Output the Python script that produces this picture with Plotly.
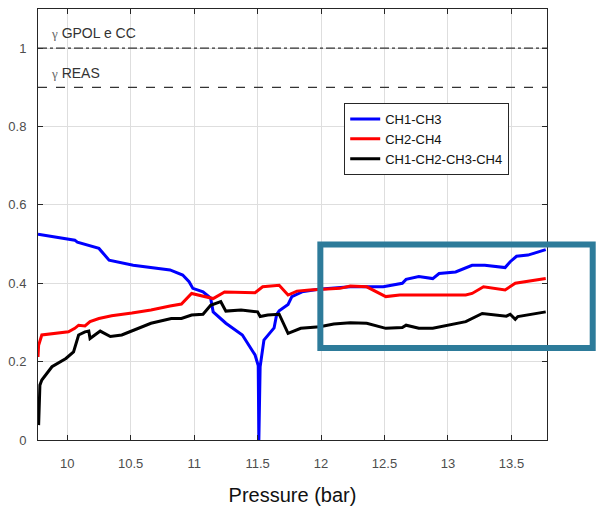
import plotly.graph_objects as go

# ---- data ----
blue_x = [9.77, 10.06, 10.08, 10.23, 10.25, 10.33, 10.52, 10.81, 10.91, 10.96, 10.99, 11.07, 11.13,
          11.15, 11.25, 11.38, 11.48, 11.505, 11.51, 11.52, 11.55, 11.63, 11.65, 11.67, 11.74, 11.77,
          11.85, 11.98, 12.23, 12.49, 12.64, 12.67, 12.77, 12.88, 12.93, 13.06, 13.19, 13.29, 13.45,
          13.49, 13.54, 13.63, 13.77]
blue_y = [0.525, 0.51, 0.505, 0.492, 0.489, 0.459, 0.446, 0.434, 0.421, 0.404, 0.387, 0.378, 0.362,
          0.327, 0.298, 0.268, 0.217, 0.19, 0.0, 0.187, 0.255, 0.286, 0.32, 0.33, 0.346, 0.366,
          0.378, 0.385, 0.391, 0.391, 0.40, 0.41, 0.417, 0.412, 0.425, 0.429, 0.446, 0.446, 0.44,
          0.455, 0.469, 0.472, 0.486]

red_x = [9.77, 9.775, 9.80, 10.01, 10.06, 10.09, 10.14, 10.18, 10.25, 10.35, 10.51, 10.66, 10.81,
         10.90, 10.98, 11.05, 11.15, 11.24, 11.37, 11.48, 11.54, 11.67, 11.74, 11.81, 11.91, 12.15,
         12.23, 12.36, 12.51, 12.62, 13.14, 13.19, 13.28, 13.45, 13.53, 13.77]
red_y = [0.212, 0.242, 0.268, 0.276, 0.285, 0.293, 0.291, 0.302, 0.31, 0.317, 0.324, 0.332, 0.342,
         0.347, 0.374, 0.368, 0.361, 0.378, 0.376, 0.376, 0.391, 0.395, 0.37, 0.38, 0.383, 0.387,
         0.393, 0.391, 0.366, 0.37, 0.37, 0.374, 0.391, 0.383, 0.40, 0.412]

black_x = [9.775, 9.785, 9.80, 9.88, 9.99, 10.05, 10.09, 10.14, 10.17, 10.18, 10.26, 10.34, 10.43,
           10.51, 10.66, 10.82, 10.90, 10.98, 11.07, 11.13, 11.21, 11.25, 11.37, 11.50, 11.52,
           11.58, 11.67, 11.74, 11.84, 11.99, 12.10, 12.23, 12.36, 12.51, 12.64, 12.67, 12.77,
           12.88, 12.98, 13.14, 13.27, 13.40, 13.46, 13.49, 13.53, 13.55, 13.77]
black_y = [0.038, 0.14, 0.153, 0.187, 0.208, 0.225, 0.268, 0.276, 0.278, 0.259, 0.278, 0.264, 0.268,
           0.278, 0.298, 0.31, 0.31, 0.319, 0.321, 0.344, 0.353, 0.329, 0.332, 0.327, 0.315,
           0.319, 0.321, 0.272, 0.285, 0.289, 0.296, 0.299, 0.298, 0.285, 0.287, 0.293, 0.285,
           0.285, 0.292, 0.302, 0.323, 0.319, 0.316, 0.321, 0.308, 0.315, 0.327]

series_names = ["CH1-CH3", "CH2-CH4", "CH1-CH2-CH3-CH4"]
gamma_gpol = 1.0
gamma_reas = 0.9
x_range = [9.77, 13.78]
y_range = [0, 1.1]
x_ticks = [10, 10.5, 11, 11.5, 12, 12.5, 13, 13.5]
x_tick_labels = ["10", "10.5", "11", "11.5", "12", "12.5", "13", "13.5"]
y_ticks = [0, 0.2, 0.4, 0.6, 0.8, 1.0]
y_tick_labels = ["0", "0.2", "0.4", "0.6", "0.8", "1"]

fig = go.Figure()
for xs, ys, name, col in [(blue_x, blue_y, series_names[0], "#0000ff"),
                          (red_x, red_y, series_names[1], "#ff0000"),
                          (black_x, black_y, series_names[2], "#000000")]:
    fig.add_trace(go.Scatter(x=xs, y=ys, mode="lines", name=name,
                             line=dict(color=col, width=3), cliponaxis=True))

# reference lines
fig.add_shape(type="line", xref="paper", x0=0, x1=1, yref="y", y0=gamma_gpol, y1=gamma_gpol,
              line=dict(color="#333333", width=1.2, dash="dashdot"))
fig.add_shape(type="line", xref="paper", x0=0, x1=1, yref="y", y0=gamma_reas, y1=gamma_reas,
              line=dict(color="#333333", width=1.2, dash="dash"))

gfont = "<span style='font-family:Liberation Serif;font-size:13px;color:#666'>γ</span>"
fig.add_annotation(x=9.855, y=1.038, xref="x", yref="y", text=gfont + " GPOL e CC",
                   showarrow=False, xanchor="left", yanchor="middle",
                   font=dict(family="Liberation Sans", size=14, color="#333333"))
fig.add_annotation(x=9.855, y=0.936, xref="x", yref="y", text=gfont + " REAS",
                   showarrow=False, xanchor="left", yanchor="middle",
                   font=dict(family="Liberation Sans", size=14, color="#333333"))

# highlight box
fig.add_shape(type="rect", xref="paper", yref="paper", x0=0.5547, x1=1.0898, y0=0.2137, y1=0.4537,
              line=dict(color="#2d7b9a", width=6), fillcolor="rgba(0,0,0,0)", layer="above")

axis_common = dict(showline=True, linecolor="#262626", linewidth=1, mirror="allticks",
                   ticks="inside", ticklen=5, tickcolor="#262626", showgrid=True,
                   gridcolor="#dedede", gridwidth=1, zeroline=False,
                   tickfont=dict(family="Liberation Sans", size=13, color="#4d4d4d"))

fig.update_xaxes(range=x_range, tickvals=x_ticks, ticktext=x_tick_labels,
                 ticklabelstandoff=11,
                 title=dict(text="Pressure (bar)", standoff=18,
                            font=dict(family="Liberation Sans", size=20, color="#111111")),
                 **axis_common)
fig.update_yaxes(range=y_range, tickvals=y_ticks, ticktext=y_tick_labels,
                 ticklabelstandoff=8, **axis_common)

fig.update_layout(
    width=598, height=513,
    margin=dict(l=35, r=51, t=8, b=73),
    paper_bgcolor="white", plot_bgcolor="white",
    showlegend=True,
    legend=dict(x=0.6016, y=0.782, xanchor="left", yanchor="top",
                bgcolor="white", bordercolor="#262626", borderwidth=1,
                font=dict(family="Liberation Sans", size=13, color="#111111"),
                tracegroupgap=0, itemwidth=30),
)

fig.write_html("out.html")
